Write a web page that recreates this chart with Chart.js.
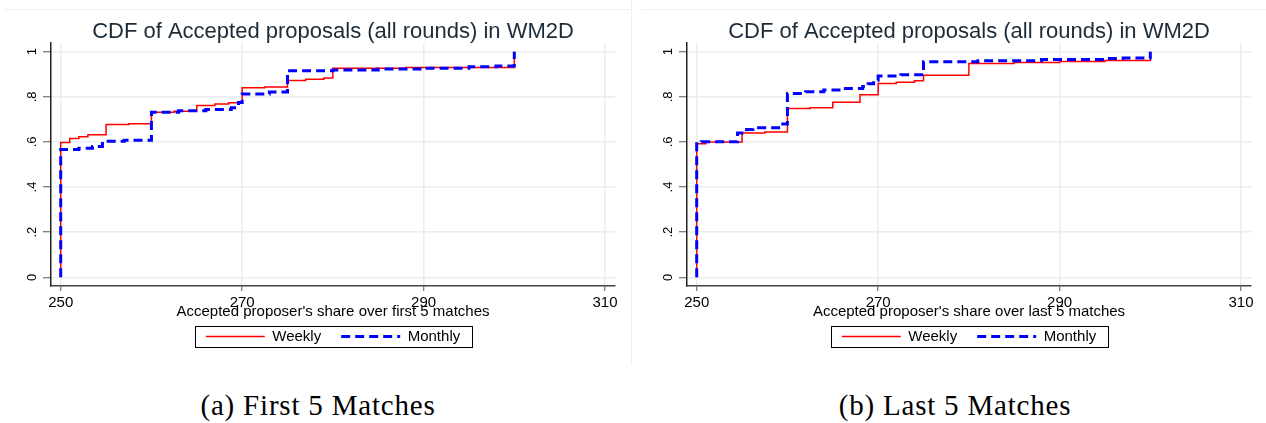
<!DOCTYPE html>
<html>
<head>
<meta charset="utf-8">
<script src="https://cdn.jsdelivr.net/npm/chart.js@4.4.1/dist/chart.umd.min.js"></script>
<style>
  body { margin: 0; background: #fff; width: 1266px; height: 423px; position: relative; overflow: hidden; }
  canvas { position: absolute; top: 0; }
  #chartA { left: 0; }
  #chartB { left: 636px; }
  .frame { position: absolute; background: #edf1f3; }
  .caption { position: absolute; top: 389px; font-family: 'Liberation Serif', serif; font-size: 29px; letter-spacing: 0.8px; color: #000; transform: translateX(-50%); white-space: nowrap; line-height: 33px; }
</style>
</head>
<body>
<div class="frame" style="left:5px;top:9px;width:625px;height:1px"></div>
<div class="frame" style="left:631px;top:0;width:1px;height:365px"></div>
<div class="frame" style="left:641px;top:9px;width:625px;height:1px"></div>
<canvas id="chartA" width="666" height="365"></canvas>
<canvas id="chartB" width="666" height="365"></canvas>
<div class="caption" style="left:318px">(a) First 5 Matches</div>
<div class="caption" style="left:955px">(b) Last 5 Matches</div>
<script>
'use strict';

var chartTitle = 'CDF of Accepted proposals (all rounds) in WM2D';
var seriesNames = ['Weekly', 'Monthly'];
var xTicks = [250, 270, 290, 310];
var yTicks = [0, 0.2, 0.4, 0.6, 0.8, 1];
var yTickLabels = ['0', '.2', '.4', '.6', '.8', '1'];

// (a) first 5 matches
var firstWeeklyX = [250, 250, 251, 252, 253, 255, 257.5, 260, 262.5, 265, 267, 268.5, 270, 272.5, 275, 277, 279, 280, 288, 300];
var firstWeeklyY = [0, 0.598, 0.615, 0.623, 0.632, 0.677, 0.681, 0.732, 0.736, 0.761, 0.768, 0.774, 0.840, 0.844, 0.872, 0.878, 0.883, 0.927, 0.930, 1];
var firstMonthlyX = [250, 250, 252, 253.5, 254.6, 257, 260, 263, 266, 268.8, 269.6, 270, 273, 275, 280, 285, 290, 295, 298, 300];
var firstMonthlyY = [0, 0.566, 0.572, 0.580, 0.603, 0.608, 0.732, 0.738, 0.744, 0.752, 0.775, 0.813, 0.821, 0.916, 0.919, 0.923, 0.927, 0.933, 0.937, 1];

// (b) last 5 matches
var lastWeeklyX = [250, 250, 251, 255, 257.5, 260, 262.5, 265, 268, 270, 272, 274, 275, 280, 285, 290, 295, 300];
var lastWeeklyY = [0, 0.592, 0.600, 0.640, 0.644, 0.748, 0.752, 0.776, 0.809, 0.859, 0.865, 0.871, 0.896, 0.948, 0.952, 0.957, 0.961, 1];
var lastMonthlyX = [250, 250, 250.5, 254.5, 255.5, 256.2, 259.2, 260, 262, 264, 266, 268.3, 268.9, 269.5, 270, 272.5, 275, 281, 288, 295, 297, 300];
var lastMonthlyY = [0, 0.592, 0.601, 0.640, 0.655, 0.663, 0.680, 0.815, 0.822, 0.830, 0.837, 0.846, 0.858, 0.874, 0.892, 0.898, 0.955, 0.960, 0.965, 0.970, 0.972, 1];

var fontFamily = "'Liberation Sans', Arial, sans-serif";

function toPoints(xs, ys) {
  return xs.map(function(x, i) { return {x: x, y: ys[i]}; });
}

// stata style box round the legend
var legendBorder = {
  id: 'legendBorder',
  afterDraw: function(chart) {
    var boxes = chart.legend && chart.legend.legendHitBoxes;
    if (!boxes || !boxes.length) return;
    var first = boxes[0];
    var last = boxes[boxes.length - 1];
    var ctx = chart.ctx;
    var left = Math.round(first.left - 11) + 0.5;
    var right = Math.round(last.left + last.width + 12) + 0.5;
    var top = Math.round(first.top - 3) + 0.5;
    var bottom = Math.round(first.top + first.height + 3) + 0.5;
    ctx.save();
    ctx.strokeStyle = '#000';
    ctx.lineWidth = 1;
    ctx.setLineDash([]);
    ctx.strokeRect(left, top, right - left, bottom - top);
    ctx.restore();
  }
};

function makeChart(id, xTitle, wx, wy, mx, my) {
  return new Chart(document.getElementById(id), {
    type: 'line',
    data: {
      datasets: [{
        label: seriesNames[0],
        data: toPoints(wx, wy),
        borderColor: '#ff0000',
        borderWidth: 1.5,
        stepped: true,
        pointRadius: 0,
        fill: false,
        order: 2
      }, {
        label: seriesNames[1],
        data: toPoints(mx, my),
        borderColor: '#0000ff',
        borderWidth: 3,
        borderDash: [9, 5],
        stepped: true,
        pointRadius: 0,
        fill: false,
        order: 1
      }]
    },
    options: {
      responsive: false,
      animation: false,
      devicePixelRatio: 1,
      layout: { padding: {left: 0, right: 0, top: 0, bottom: 11} },
      plugins: {
        title: {
          display: true,
          text: chartTitle,
          color: '#1c2b39',
          font: {family: fontFamily, size: 22, weight: 'normal'},
          padding: {top: 18.8, bottom: -2.2}
        },
        legend: {
          position: 'bottom',
          labels: {
            usePointStyle: true,
            pointStyleWidth: 59,
            padding: 20,
            color: '#000',
            font: {family: fontFamily, size: 15},
            generateLabels: function(chart) {
              return chart.data.datasets.map(function(ds, i) {
                return {
                  text: ds.label,
                  datasetIndex: i,
                  strokeStyle: ds.borderColor,
                  fillStyle: ds.borderColor,
                  lineWidth: ds.borderWidth,
                  lineDash: ds.borderDash || [],
                  lineCap: 'butt',
                  pointStyle: 'line',
                  fontColor: '#000',
                  hidden: false
                };
              });
            }
          }
        },
        tooltip: {enabled: false}
      },
      scales: {
        x: {
          type: 'linear',
          min: 248.93,
          max: 311.1,
          afterBuildTicks: function(s) { s.ticks = xTicks.map(function(v) { return {value: v}; }); },
          afterFit: function(s) { s.height = 23; },
          ticks: {color: '#000', font: {family: fontFamily, size: 15}, padding: 3, maxRotation: 0, autoSkip: false},
          grid: {color: '#e6eef1', lineWidth: 1.5, tickLength: 5, tickColor: '#555', tickWidth: 1},
          border: {color: '#444', width: 1.5},
          title: {display: true, text: xTitle, color: '#000', font: {family: fontFamily, size: 15}, padding: {top: 0, bottom: -11.7}}
        },
        y: {
          type: 'linear',
          min: -0.0386,
          max: 1.0386,
          afterBuildTicks: function(s) { s.ticks = yTicks.map(function(v) { return {value: v}; }); },
          afterFit: function(s) { s.width = 51; },
          ticks: {
            color: '#000',
            font: {family: fontFamily, size: 13},
            minRotation: 90,
            maxRotation: 90,
            crossAlign: 'center',
            padding: 5.5,
            callback: function(v, i) { return yTickLabels[i]; }
          },
          grid: {color: '#e6eef1', lineWidth: 1.5, tickLength: 8, tickColor: '#555', tickWidth: 1},
          border: {color: '#222', width: 1.5}
        },
        // empty right axis so the title and legend centre over the plot
        yr: {
          type: 'linear',
          position: 'right',
          min: 0,
          max: 1,
          afterFit: function(s) { s.width = 51; },
          ticks: {display: false},
          grid: {display: false, drawOnChartArea: false},
          border: {display: false}
        }
      }
    },
    plugins: [legendBorder]
  });
}

makeChart('chartA', "Accepted proposer's share over first 5 matches", firstWeeklyX, firstWeeklyY, firstMonthlyX, firstMonthlyY);
makeChart('chartB', "Accepted proposer's share over last 5 matches", lastWeeklyX, lastWeeklyY, lastMonthlyX, lastMonthlyY);
</script>
</body>
</html>
